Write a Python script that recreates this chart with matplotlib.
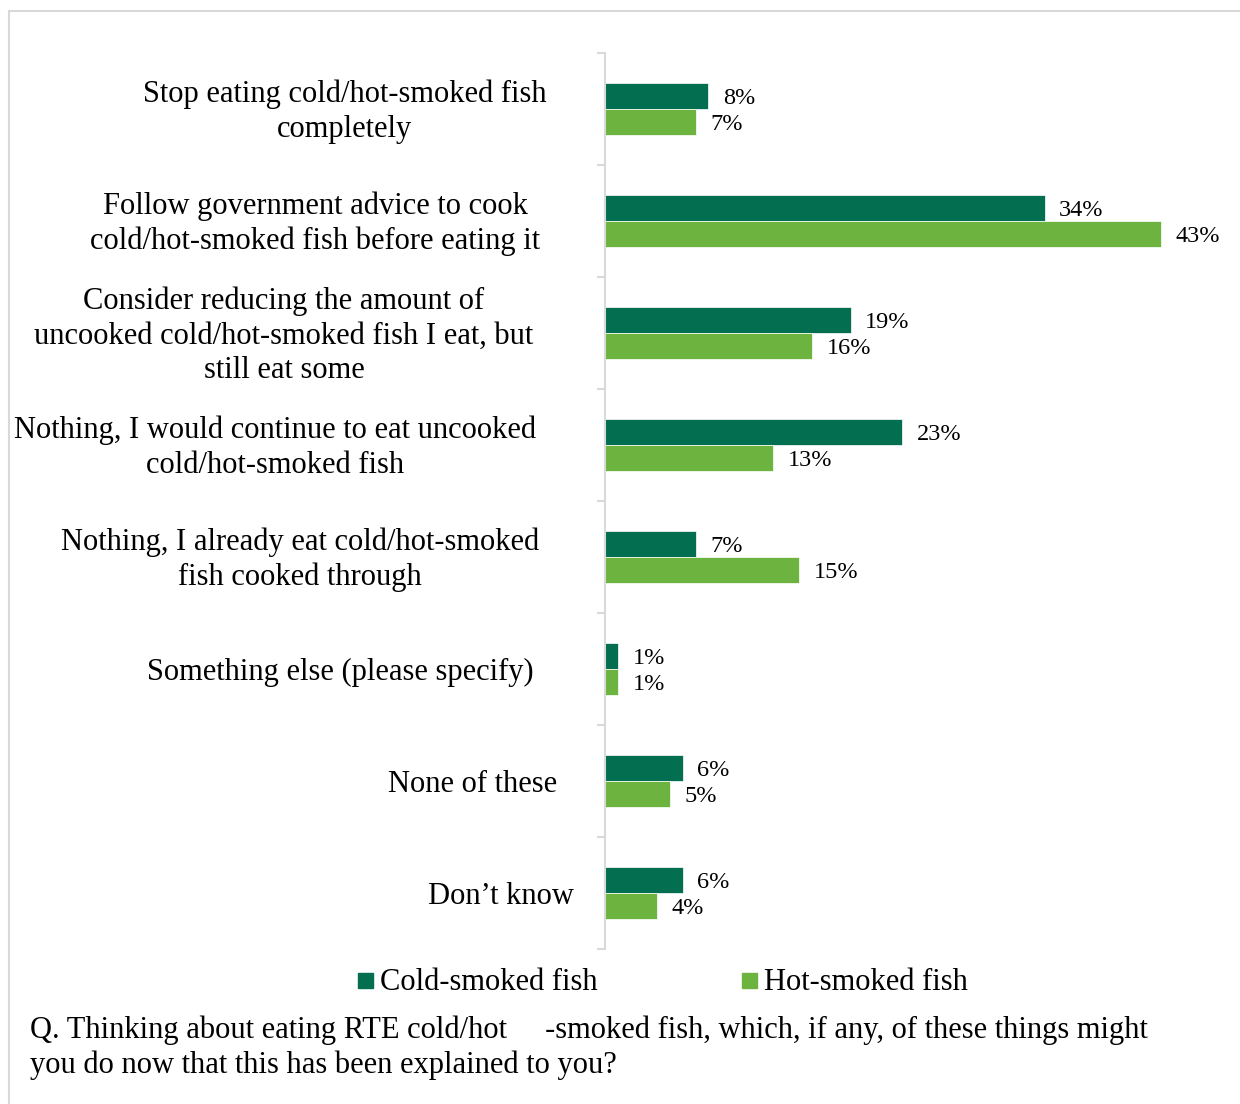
import numpy as np
import matplotlib.pyplot as plt
from matplotlib.patches import Rectangle

plt.rcParams['font.family'] = ['Liberation Serif', 'DejaVu Serif']

# ---- data ----
categories = [
    "Stop eating cold/hot-smoked fish\ncompletely",
    "Follow government advice to cook\ncold/hot-smoked fish before eating it",
    "Consider reducing the amount of\nuncooked cold/hot-smoked fish I eat, but\nstill eat some",
    "Nothing, I would continue to eat uncooked\ncold/hot-smoked fish",
    "Nothing, I already eat cold/hot-smoked\nfish cooked through",
    "Something else (please specify)",
    "None of these",
    "Don\u2019t know",
]
cold = [8, 34, 19, 23, 7, 1, 6, 6]
hot = [7, 43, 16, 13, 15, 1, 5, 4]
series_names = ["Cold-smoked fish", "Hot-smoked fish"]
question = ("Q. Thinking about eating RTE cold/hot     -smoked fish, which, if any, of these things might\n"
            "you do now that this has been explained to you?")

# label centres in pixels (layout only)
label_x_px = [345, 315, 284, 275, 300, 340, 473, 501]

COLD = '#036E50'
HOT = '#6DB33F'
GRID = '#d9d9d9'

W, H = 1240, 1104
fig = plt.figure(figsize=(W / 100, H / 100), dpi=100)

# outer border
fig.patches.append(Rectangle((9 / W, -0.05), 1.2, (H - 11) / H + 0.05,
                             transform=fig.transFigure, fill=False,
                             ec=GRID, lw=1.5))

ax = fig.add_axes([605 / W, (H - 949) / H, (W - 605) / W, (949 - 53) / H])

y = np.arange(len(categories))
bh = 0.235
off = 0.1175
ax.barh(y - off, cold, height=bh, color=COLD, ec='white', lw=0.5)
ax.barh(y + off, hot, height=bh, color=HOT, ec='white', lw=0.5)

for vals, sign in ((cold, -1), (hot, 1)):
    for i, v in enumerate(vals):
        ax.annotate(f"{v}%", xy=(v, i + sign * off), xytext=(10.5, -2),
                    textcoords='offset points', ha='left', va='center',
                    fontsize=17.5, color='black', annotation_clip=False)

ax.set_xlim(0, (W - 605) / 12.93)
ax.set_ylim(len(categories) - 0.5, -0.5)

for s in ('top', 'right', 'bottom'):
    ax.spines[s].set_visible(False)
ax.spines['left'].set_color(GRID)
ax.spines['left'].set_linewidth(1.5)
ax.set_xticks([])
ax.set_yticks(np.arange(-0.5, len(categories), 1.0))
ax.set_yticklabels([])
ax.tick_params(axis='y', length=6, width=1.5, color=GRID)

# category labels
for i, (lab, xp) in enumerate(zip(categories, label_x_px)):
    yp = 53 + 112 * i + 59
    fig.text(xp / W, 1 - yp / H, lab, ha='center', va='center',
             multialignment='center', fontsize=22, linespacing=1.26)

# legend
leg_items = [(358, COLD, series_names[0]), (742, HOT, series_names[1])]
for xp, c, name in leg_items:
    fig.patches.append(Rectangle((xp / W, 1 - 988 / H), 15 / W, 15 / H,
                                 transform=fig.transFigure, color=c))
    fig.text((xp + 22) / W, 1 - 983 / H, name, ha='left', va='center', fontsize=22)

fig.text(30 / W, 1 - 1048 / H, question, ha='left', va='center',
         fontsize=22, linespacing=1.26)

fig.savefig('out.png', dpi=100)
